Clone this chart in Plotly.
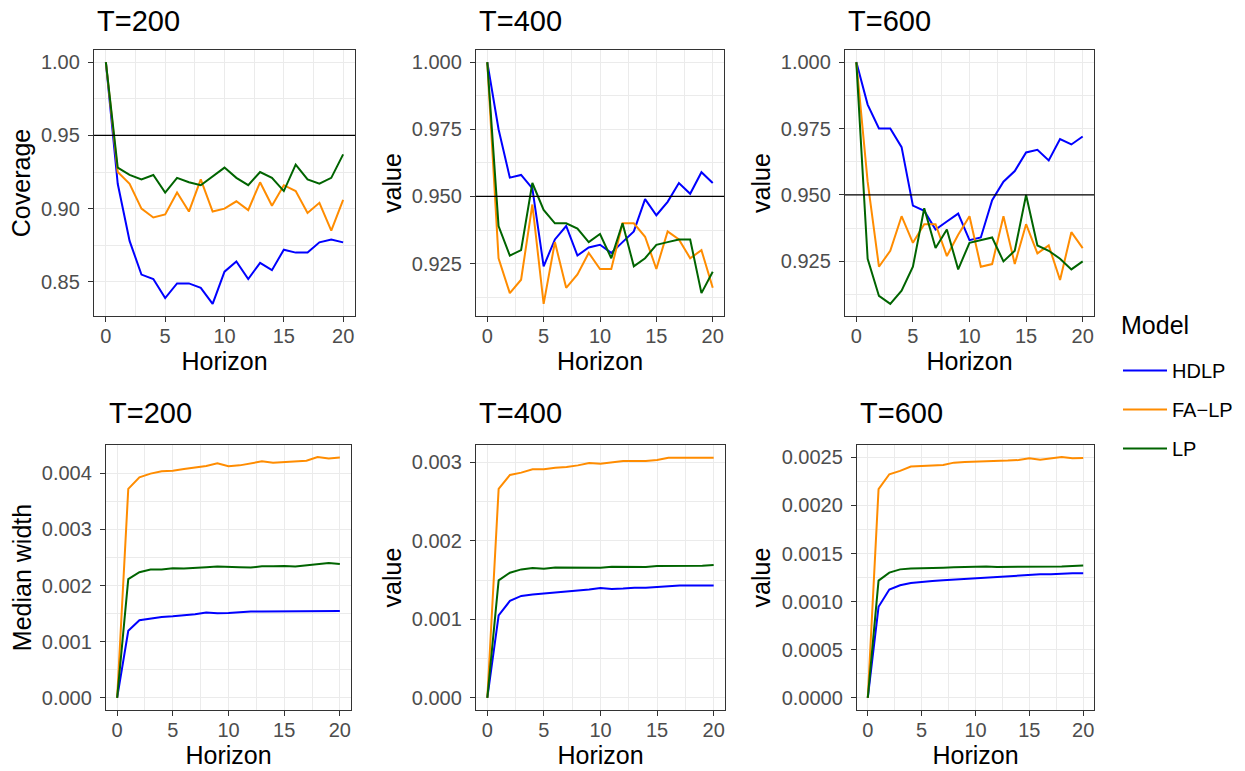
import plotly.graph_objects as go

horizon = list(range(21))
models = ["HDLP", "FA−LP", "LP"]
colors = {"HDLP": "#0000FF", "FA−LP": "#FF8C00", "LP": "#006400"}
titles = ["T=200", "T=400", "T=600", "T=200", "T=400", "T=600"]
y_titles = ["Coverage", "value", "value", "Median width", "value", "value"]

# Coverage, T=200
cov200_hdlp = [1.000, 0.917, 0.878, 0.855, 0.852, 0.839, 0.849, 0.849, 0.846, 0.835, 0.857,
               0.864, 0.852, 0.863, 0.858, 0.872, 0.870, 0.870, 0.877, 0.879, 0.877]
cov200_falp = [1.000, 0.925, 0.917, 0.900, 0.894, 0.896, 0.911, 0.898, 0.920, 0.898, 0.900,
               0.905, 0.899, 0.918, 0.902, 0.916, 0.912, 0.897, 0.904, 0.885, 0.906]
cov200_lp = [1.000, 0.928, 0.923, 0.920, 0.923, 0.911, 0.921, 0.918, 0.916, 0.922, 0.928,
             0.921, 0.916, 0.925, 0.921, 0.912, 0.930, 0.920, 0.917, 0.921, 0.937]
# Coverage, T=400
cov400_hdlp = [1.000, 0.975, 0.957, 0.958, 0.953, 0.924, 0.934, 0.939, 0.928, 0.931, 0.932,
               0.929, 0.933, 0.937, 0.949, 0.943, 0.948, 0.955, 0.951, 0.959, 0.955]
cov400_falp = [1.000, 0.927, 0.914, 0.919, 0.947, 0.910, 0.933, 0.916, 0.921, 0.929, 0.923,
               0.923, 0.940, 0.940, 0.935, 0.923, 0.937, 0.934, 0.927, 0.930, 0.916]
cov400_lp = [1.000, 0.939, 0.928, 0.930, 0.955, 0.945, 0.940, 0.940, 0.938, 0.933, 0.936,
             0.927, 0.940, 0.924, 0.927, 0.932, 0.933, 0.934, 0.934, 0.914, 0.922]
# Coverage, T=600
cov600_hdlp = [1.000, 0.984, 0.975, 0.975, 0.968, 0.946, 0.944, 0.937, 0.940, 0.943, 0.933,
               0.934, 0.948, 0.955, 0.959, 0.966, 0.967, 0.963, 0.971, 0.969, 0.972]
cov600_falp = [1.000, 0.955, 0.923, 0.929, 0.942, 0.932, 0.939, 0.939, 0.927, 0.935, 0.942,
               0.923, 0.924, 0.942, 0.924, 0.939, 0.928, 0.931, 0.918, 0.936, 0.930]
cov600_lp = [1.000, 0.926, 0.912, 0.909, 0.914, 0.923, 0.945, 0.930, 0.937, 0.922, 0.932,
             0.933, 0.934, 0.925, 0.929, 0.950, 0.931, 0.929, 0.926, 0.922, 0.925]
# Median width, T=200
wid200_hdlp = [0.0, 0.001196, 0.001384, 0.001414, 0.001443, 0.001455, 0.001467, 0.001490, 0.001520,
               0.001508, 0.001514, 0.001532, 0.001537, 0.001537, 0.001537, 0.001549, 0.001549,
               0.001537, 0.001543, 0.001543, 0.001549]
wid200_falp = [0.0, 0.003723, 0.003929, 0.003994, 0.004035, 0.004047, 0.004077, 0.004106, 0.004130,
               0.004177, 0.004124, 0.004141, 0.004171, 0.004212, 0.004188, 0.004200, 0.004224,
               0.004224, 0.004289, 0.004265, 0.004283]
wid200_lp = [0.0, 0.002115, 0.002239, 0.002286, 0.002286, 0.002309, 0.002303, 0.002309, 0.002327,
             0.002339, 0.002339, 0.002327, 0.002321, 0.002345, 0.002345, 0.002350, 0.002339,
             0.002362, 0.002380, 0.002404, 0.002386]
# Median width, T=400
wid400_hdlp = [0.0, 0.001049, 0.001235, 0.001298, 0.001315, 0.001327, 0.001340, 0.001357, 0.001370,
               0.001378, 0.001399, 0.001386, 0.001391, 0.001403, 0.001403, 0.001412, 0.001424,
               0.001429, 0.001429, 0.001433, 0.001429]
wid400_falp = [0.0, 0.002659, 0.002836, 0.002866, 0.002908, 0.002908, 0.002929, 0.002937, 0.002958,
               0.002988, 0.002979, 0.003000, 0.003013, 0.003013, 0.003013, 0.003026, 0.003055,
               0.003055, 0.003055, 0.003064, 0.003055]
wid400_lp = [0.0, 0.001496, 0.001593, 0.001635, 0.001652, 0.001643, 0.001660, 0.001660, 0.001660,
             0.001665, 0.001656, 0.001669, 0.001669, 0.001673, 0.001665, 0.001677, 0.001677,
             0.001677, 0.001677, 0.001681, 0.001690]
# Median width, T=600
wid600_hdlp = [0.0, 0.000947, 0.001126, 0.001171, 0.001195, 0.001209, 0.001216, 0.001222, 0.001229,
               0.001240, 0.001250, 0.001257, 0.001264, 0.001267, 0.001271, 0.001281, 0.001284,
               0.001284, 0.001291, 0.001295, 0.001295]
wid600_falp = [0.0, 0.002169, 0.002324, 0.002359, 0.002404, 0.002407, 0.002414, 0.002421, 0.002445,
               0.002452, 0.002455, 0.002455, 0.002462, 0.002466, 0.002472, 0.002490, 0.002476,
               0.002490, 0.002503, 0.002490, 0.002493]
wid600_lp = [0.0, 0.001219, 0.001302, 0.001336, 0.001346, 0.001346, 0.001350, 0.001353, 0.001357,
             0.001360, 0.001357, 0.001367, 0.001360, 0.001360, 0.001367, 0.001364, 0.001367,
             0.001367, 0.001367, 0.001371, 0.001377]

nominal = 0.95

panels = [
    [cov200_hdlp, cov200_falp, cov200_lp],
    [cov400_hdlp, cov400_falp, cov400_lp],
    [cov600_hdlp, cov600_falp, cov600_lp],
    [wid200_hdlp, wid200_falp, wid200_lp],
    [wid400_hdlp, wid400_falp, wid400_lp],
    [wid600_hdlp, wid600_falp, wid600_lp],
]
y_major = [0.05, 0.025, 0.025, 0.001, 0.001, 0.0005]
y_formats = [".2f", ".3f", ".3f", ".3f", ".3f", ".4f"]

W, H = 1245, 771
# panel boxes in page pixels: left, right, top, bottom
boxes = [
    (94, 355, 50, 316), (476, 724, 50, 316), (845, 1094, 50, 316),
    (106, 351, 445, 710), (476, 725, 445, 710), (857, 1094, 445, 710),
]


def px(xp):
    return xp / W


def py(yp):
    return 1 - yp / H


FONT = "Liberation Sans, Arial, sans-serif"
GRID = "#EBEBEB"
TICK_SIZE = 20
AX_TITLE = 25
fig = go.Figure()
layout = dict(
    width=W, height=H, margin=dict(l=0, r=0, t=0, b=0, pad=0),
    paper_bgcolor="white", plot_bgcolor="white",
    font=dict(family=FONT, color="black"),
    showlegend=True,
    legend=dict(
        x=px(1118), y=py(351), xanchor="left", yanchor="top",
        font=dict(size=20, color="black", family=FONT), tracegroupgap=10,
        itemwidth=44, bgcolor="rgba(0,0,0,0)",
    ),
    annotations=[], shapes=[],
)
layout["annotations"].append(dict(
    text="Model", xref="paper", yref="paper", x=px(1119), y=py(325),
    xanchor="left", yanchor="middle", showarrow=False,
    font=dict(size=25, color="black", family=FONT),
))

for i, (series, box) in enumerate(zip(panels, boxes)):
    k = i + 1
    xa = "x" if k == 1 else f"x{k}"
    ya = "y" if k == 1 else f"y{k}"
    l, r, t, b = box
    for m, vals in zip(models, series):
        fig.add_trace(go.Scatter(
            x=horizon, y=vals, mode="lines", name=m,
            line=dict(color=colors[m], width=2),
            legendgroup=m, showlegend=(i == 0),
            xaxis=xa, yaxis=ya,
        ))
    allv = [v for s in series for v in s]
    lo, hi = min(allv), max(allv)
    span = hi - lo
    yr = [lo - 0.05 * span, hi + 0.05 * span]
    common = dict(
        showline=True, mirror=True, linecolor="#333333", linewidth=1.3,
        ticks="outside", ticklen=5, tickcolor="#333333", tickwidth=1.2,
        tickfont=dict(size=TICK_SIZE, color="#4D4D4D", family=FONT),
        showgrid=True, gridcolor=GRID, gridwidth=1.4, zeroline=False,
    )
    layout["xaxis" if k == 1 else f"xaxis{k}"] = dict(
        common, domain=[px(l), px(r)], anchor=ya, range=[-1, 21],
        tickmode="linear", tick0=0, dtick=5, ticklabelstandoff=-3,
        minor=dict(tick0=0, dtick=2.5, showgrid=True, gridcolor=GRID, gridwidth=0.8),
        title=dict(text="Horizon", font=dict(size=AX_TITLE, color="black", family=FONT),
                   standoff=0 if i < 3 else 3),
    )
    layout["yaxis" if k == 1 else f"yaxis{k}"] = dict(
        common, domain=[py(b), py(t)], anchor=xa, range=yr,
        tickmode="linear", tick0=0, dtick=y_major[i], tickformat=y_formats[i],
        ticklabelstandoff=4,
        minor=dict(tick0=0, dtick=y_major[i] / 2, showgrid=True, gridcolor=GRID, gridwidth=0.8),
        title=dict(text=y_titles[i], font=dict(size=AX_TITLE, color="black", family=FONT), standoff=3),
    )
    layout["annotations"].append(dict(
        text=titles[i], xref="paper", yref="paper",
        x=px(l + 1), y=py(21 if i < 3 else 413),
        xanchor="left", yanchor="middle", showarrow=False,
        font=dict(size=29, color="black", family=FONT),
    ))
    if i < 3:
        layout["shapes"].append(dict(
            type="line", xref=f"{xa} domain", yref=ya,
            x0=0, x1=1, y0=nominal, y1=nominal,
            line=dict(color="black", width=1.3), layer="above",
        ))

fig.update_layout(**layout)
fig.write_html("out.html", config={"displayModeBar": False},
               post_script="document.body.style.margin='0px';")
